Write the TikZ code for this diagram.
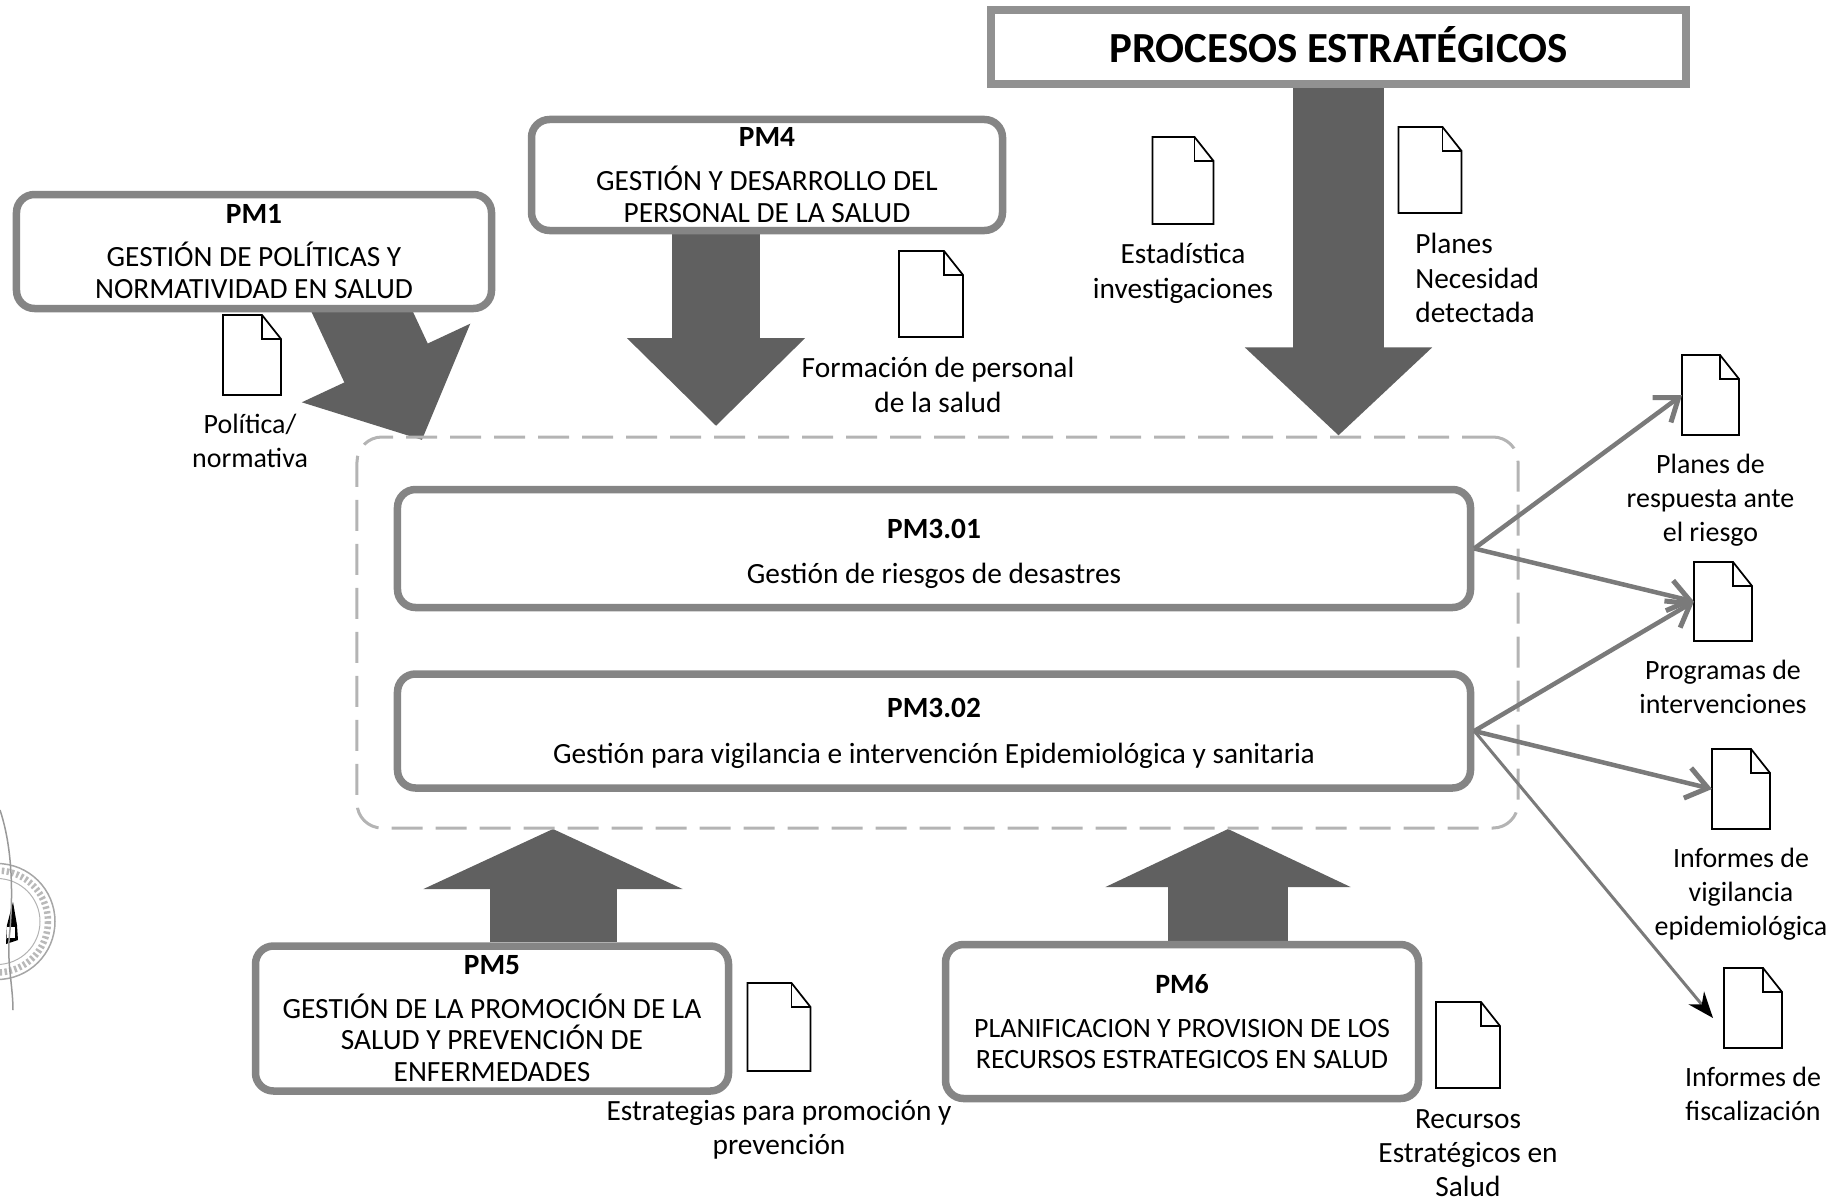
\documentclass[tikz,border=0pt]{standalone}
\usepackage{fontspec}
\setmainfont{Carlito}
\usepackage{xcolor}
\usetikzlibrary{
    arrows.meta,
    positioning,
    calc,
    backgrounds
}
\definecolor{boxgray}{HTML}{858585}
\definecolor{bloquegray}{HTML}{606060}
\definecolor{dashgray}{HTML}{B4B4B4}
\definecolor{flechagray}{HTML}{7A7A7A}
\tikzset{
    procbox/.style={draw=boxgray, line width=0.15cm, rounded corners=0.36cm, fill=white, align=center, inner sep=0pt,
        font=\fontsize{16.7}{18}\selectfont},
    titlebox/.style={draw=boxgray!90, line width=0.17cm, fill=white, inner sep=0pt, text depth=0.1cm,
        minimum width=13.9cm, minimum height=1.48cm, font=\fontsize{24.4}{28}\selectfont\bfseries},
    groupbox/.style={draw=dashgray, line width=0.06cm, rounded corners=0.5cm, dash pattern=on 0.62cm off 0.26cm,
        minimum width=23.22cm, minimum height=7.82cm},
    doclabel/.style={align=center, inner sep=0pt, font=\fontsize{16.7}{19.5}\selectfont},
    outlabel/.style={align=center, inner sep=0pt, font=\fontsize{15.9}{19.2}\selectfont},
    docicon/.style={inner sep=0pt, outer sep=0pt},
    docline/.style={draw=black, line width=0.035cm, line join=miter},
    bigarrow/.style={draw=bloquegray, line width=#1},
    outarrow/.style={draw=flechagray, line width=0.09cm, -{Straight Barb[length=0.42cm, width=0.62cm, line width=0.1cm]}}
}
\begin{document}
\begin{tikzpicture}[x=0.2mm, y=-0.2mm]
    \useasboundingbox (0,0) rectangle (1840,1201);

    % Group around PM3
    \node[groupbox] (grupo) at (937.5,632.5) {};

    % Process boxes
    \node[titlebox] (estrategicos) at (1338.5,47) {PROCESOS ESTRATÉGICOS};
    \node[procbox, minimum width=9.5cm, minimum height=2.28cm] (pm1) at (254,251.5) {\textbf{PM1}\\[0.24cm]GESTIÓN DE POLÍTICAS Y\\NORMATIVIDAD EN SALUD};
    \node[procbox, minimum width=9.42cm, minimum height=2.22cm] (pm4) at (767,175) {\textbf{PM4}\\[0.24cm]GESTIÓN Y DESARROLLO DEL\\PERSONAL DE LA SALUD};
    \node[procbox, minimum width=21.46cm, minimum height=2.36cm] (pm301) at (934,548.5) {\rule{0pt}{0.6cm}\textbf{PM3.01}\\[0.28cm]Gestión de riesgos de desastres};
    \node[procbox, minimum width=21.46cm, minimum height=2.28cm] (pm302) at (934,731) {\rule{0pt}{0.47cm}\textbf{PM3.02}\\[0.28cm]Gestión para vigilancia e intervención Epidemiológica y sanitaria};
    \node[procbox, minimum width=9.46cm, minimum height=2.9cm] (pm5) at (492,1018.5) {\textbf{PM5}\\[0.24cm]GESTIÓN DE LA PROMOCIÓN DE LA\\SALUD Y PREVENCIÓN DE\\ENFERMEDADES};
    \node[procbox, minimum width=9.46cm, minimum height=3.08cm, font=\fontsize{15.9}{17.4}\selectfont] (pm6) at (1182,1021.5) {\textbf{PM6}\\[0.26cm]PLANIFICACION Y PROVISION DE LOS\\RECURSOS ESTRATEGICOS EN SALUD};

    % Document icons
    \foreach \nm/\xx/\yy/\ww/\hh in {docestad/1183/180.5/61/87, docplanes/1430/170/63/86, docform/931/294/64/86,
        docpol/252/355/58/80, docresp/1710.5/395/57/80, docprog/1723/601.5/58/79, docvig/1741/789/58/80,
        docfisc/1753/1008/58/80, docestrat/779/1027/63/88, docrec/1468/1045/64/86} {
        \node[docicon, minimum width=\ww*0.02cm, minimum height=\hh*0.02cm] (\nm) at (\xx,\yy) {};
        \coordinate (\nm fold) at ($(\nm.north east)+(-19,0)$);
        \coordinate (\nm side) at ($(\nm.north east)+(0,24)$);
        \draw[docline] (\nm.north west) -- (\nm fold) -- (\nm side) -- (\nm.south east) -- (\nm.south west) -- cycle;
        \draw[docline] (\nm fold) |- (\nm side);
    }

    % Labels
    \node[outlabel, below=0.37cm of docpol, xshift=-0.04cm] (lblpol) {Política/\\normativa};
    \node[doclabel] (lblform) at (938,385) {Formación de personal\\de la salud};
    \node[doclabel, below=0.38cm of docestad] (lblestad) {Estadística\\investigaciones};
    \node[doclabel, align=left, anchor=west] (lblplanes) at (1415,278) {Planes\\Necesidad\\detectada};
    \node[outlabel, below=0.38cm of docresp] (lblresp) {Planes de\\respuesta ante\\el riesgo};
    \node[outlabel, below=0.38cm of docprog] (lblprog) {Programas de\\intervenciones};
    \node[outlabel, below=0.38cm of docvig] (lblvig) {Informes de\\vigilancia\\epidemiológica};
    \node[outlabel, below=0.38cm of docfisc] (lblfisc) {Informes de\\fiscalización};
    \node[doclabel, below=0.58cm of docestrat] (lblestrat) {Estrategias para promoción y\\prevención};
    \node[doclabel, below=0.42cm of docrec] (lblrec) {Recursos\\Estratégicos en\\Salud};

    % Block arrows, behind the boxes
    \coordinate (tippm1) at (422,440);
    \coordinate (startpm1) at (352,290);
    \coordinate (tippm4) at (716,426);
    \coordinate (tippm5) at (553,829);
    \coordinate (tippm6) at (1228,829);
    \begin{scope}[on background layer]
        \draw[bigarrow=1.84cm, -{Triangle[length=1.7cm, width=3.62cm]}] (startpm1) -- (tippm1);
        \draw[bigarrow=1.76cm, -{Triangle[length=1.76cm, width=3.46cm]}] (pm4.south -| tippm4) -- (tippm4);
        \draw[bigarrow=1.82cm, -{Triangle[length=1.76cm, width=3.64cm]}] (estrategicos) -- (estrategicos |- grupo.north);
        \draw[bigarrow=2.54cm, -{Triangle[length=1.2cm, width=5.14cm]}] (pm5.north -| tippm5) -- (tippm5);
        \draw[bigarrow=2.4cm, -{Triangle[length=1.16cm, width=4.86cm]}] (pm6.north -| tippm6) -- (tippm6);
    \end{scope}

    % Outputs
    \coordinate (tipfisc) at (1713,1018);
    \draw[outarrow] (pm301.east) -- (docresp.west);
    \draw[outarrow] (pm301.east) -- (docprog.west);
    \draw[outarrow] (pm302.east) -- (docprog.west);
    \draw[outarrow] (pm302.east) -- (docvig.west);
    \draw[draw=flechagray, line width=0.06cm, -{Stealth[black, length=0.52cm, width=0.4cm]}] (pm302.east) -- (tipfisc);

    % Seal on the left edge
    \draw[gray!70, line width=0.03cm] (-3,921.5) circle (58);
    \draw[gray!55, line width=0.13cm, dash pattern=on 0.05cm off 0.05cm] (-3,921.5) circle (51);
    \draw[gray!60, line width=0.02cm] (-3,921.5) circle (43);
    \fill[black] (13,902) -- (17,925) -- (18,940) -- (6,944) -- (7,925) -- cycle;
    \fill[white] (7,927) rectangle (15,938);
    \draw[gray!80, line width=0.03cm] (0,810) .. controls (10,840) and (14,880) .. (10,930) .. controls (6,960) and (13,985) .. (13,1010);
\end{tikzpicture}
\end{document}
